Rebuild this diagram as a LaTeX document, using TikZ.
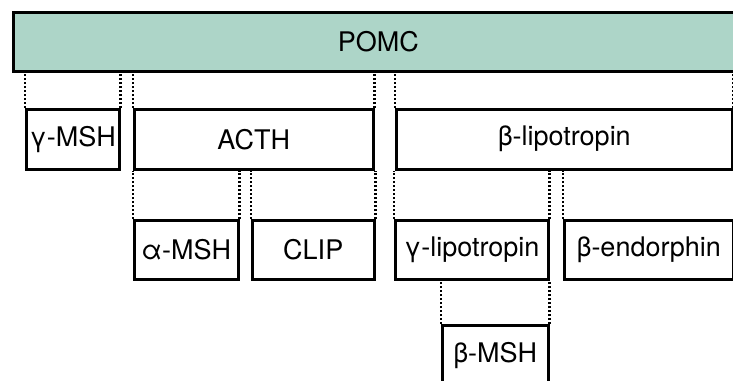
\documentclass[tikz,border=0pt]{standalone}
\usepackage{fontspec}
\setmainfont{TeX Gyre Heros}
\usepackage{tikz}
\definecolor{pomcgreen}{RGB}{173,213,200}
\tikzset{
  box/.style = {rectangle, draw=black, line width=2.5pt, fill=white, anchor=north west,
    inner sep=0pt, font=\fontsize{27}{31}\selectfont},
  cut/.style = {line width=2.5pt, dash pattern=on 2pt off 2pt}
}
\begin{document}
\begin{tikzpicture}[x=1pt, y=-1pt]
      \useasboundingbox (0,0) rectangle (733,380);
      % Precursor
      \node [box, fill=pomcgreen, minimum width=730pt, minimum height=59pt] (pomc) at (12,11) {POMC};
      % First cleavage
      \node [box, minimum width=93pt, minimum height=60pt] (gmsh) at (25,108) {γ-MSH};
      \node [box, minimum width=239pt, minimum height=60pt] (acth) at (133,108) {ACTH};
      \node [box, minimum width=336pt, minimum height=60pt] (blip) at (395,108) {β-lipotropin};
      % Second cleavage
      \node [box, minimum width=104pt, minimum height=59pt] (amsh) at (133,219) {α-MSH};
      \node [box, minimum width=122pt, minimum height=59pt] (clip) at (251,219) {CLIP};
      \node [box, minimum width=153pt, minimum height=59pt] (glip) at (394,219) {γ-lipotropin};
      \node [box, minimum width=169pt, minimum height=59pt] (bend) at (563,219) {β-endorphin};
      % Third cleavage
      \node [box, minimum width=106pt, minimum height=60pt] (bmsh) at (441,324) {β-MSH};
      % Draw cuts
      \foreach \parent/\child in {pomc/gmsh, pomc/acth, pomc/blip, acth/amsh, acth/clip,
          blip/glip, blip/bend, glip/bmsh} {
        \draw [cut] (\child.north west) -- (\child.north west |- \parent.south);
        \draw [cut] (\child.north east) -- (\child.north east |- \parent.south);
      }
\end{tikzpicture}
\end{document}
